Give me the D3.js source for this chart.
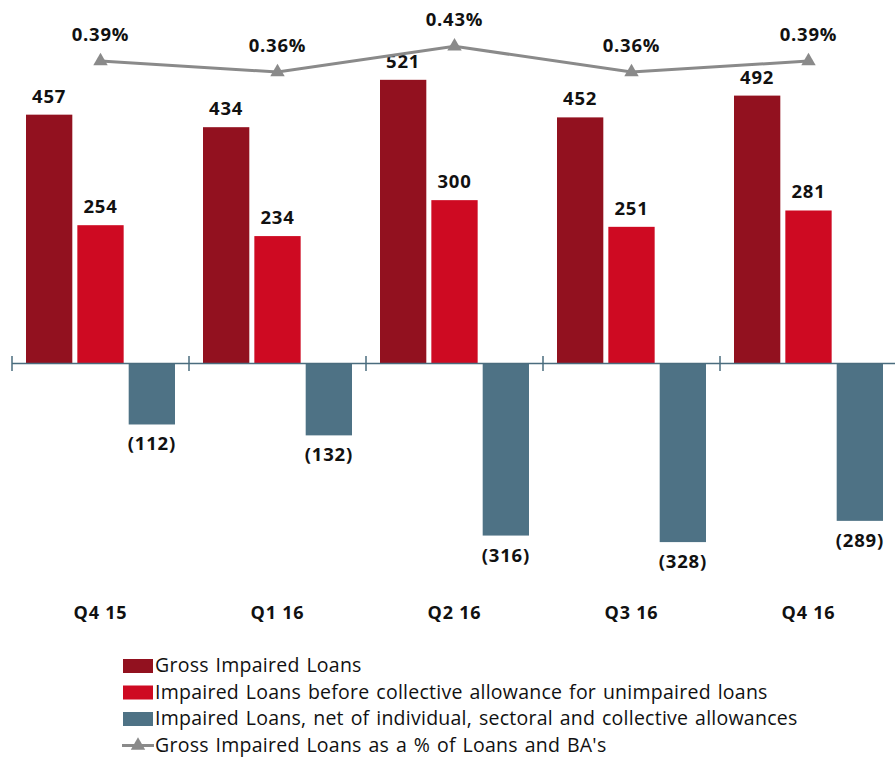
<!DOCTYPE html>
<html>
<head>
<meta charset="utf-8">
<script src="https://cdn.jsdelivr.net/npm/d3@7"></script>
<style>
  html, body { margin: 0; padding: 0; background: #fff; }
  svg { display: block; }
  text { font-family: "Open Sans", "Liberation Sans", sans-serif; }
</style>
</head>
<body>
<svg id="chart" width="895" height="758"></svg>
<script>
// Quarterly impaired loan figures ($ millions) and ratio (%)
const quarters = ["Q4 15", "Q1 16", "Q2 16", "Q3 16", "Q4 16"];
const grossImpaired = [457, 434, 521, 452, 492];
const beforeCollective = [254, 234, 300, 251, 281];
const netOfAllowances = [-112, -132, -316, -328, -289];
const grossPctOfLoans = [0.39, 0.36, 0.43, 0.36, 0.39];

const seriesNames = [
  "Gross Impaired Loans",
  "Impaired Loans before collective allowance for unimpaired loans",
  "Impaired Loans, net of individual, sectoral and collective allowances",
  "Gross Impaired Loans as a % of Loans and BA's"
];
const barColors = ["#92111F", "#CE0A22", "#4E7285"];
const lineColor = "#8A8A8A";

const svg = d3.select("#chart");

// Category bands: one per quarter, 177px wide
const x = d3.scaleBand().domain(quarters).range([12, 897]).padding(0);
const xSeries = d3.scaleBand().domain([0, 1, 2]).range([14, 163]).paddingInner(5 / 51);

const yBar = d3.scaleLinear().domain([-400, 600]).range([581.3, 36.8]);
const yPct = d3.scaleLinear().domain([0.30, 0.45]).range([94, 39]);

const barSeries = [grossImpaired, beforeCollective, netOfAllowances];

// Bars
barSeries.forEach((vals, si) => {
  svg.append("g").selectAll("rect")
    .data(vals.map((v, i) => ({ q: quarters[i], v })))
    .join("rect")
    .attr("x", d => x(d.q) + xSeries(si))
    .attr("width", xSeries.bandwidth())
    .attr("y", d => yBar(Math.max(0, d.v)))
    .attr("height", d => Math.abs(yBar(d.v) - yBar(0)))
    .attr("fill", barColors[si]);
});

// Zero axis with tick marks at category boundaries
const axisG = svg.append("g").attr("transform", `translate(0,${yBar(0)})`);
axisG.append("line")
  .attr("x1", 12).attr("x2", 895).attr("y1", 0).attr("y2", 0)
  .attr("stroke", "#4A6C7E").attr("stroke-width", 1.5);
axisG.selectAll("line.tick")
  .data(quarters)
  .join("line")
  .attr("class", "tick")
  .attr("x1", d => x(d)).attr("x2", d => x(d))
  .attr("y1", -7.5).attr("y2", 7.5)
  .attr("stroke", "#4A6C7E").attr("stroke-width", 1.5);

// Bar value labels
const labelStyle = sel => sel
  .attr("text-anchor", "middle")
  .attr("font-weight", "bold")
  .attr("font-size", 18.5)
  .attr("letter-spacing", 0.8)
  .attr("fill", "#111");

barSeries.forEach((vals, si) => {
  svg.append("g").selectAll("text")
    .data(vals.map((v, i) => ({ q: quarters[i], v })))
    .join("text")
    .attr("x", d => x(d.q) + xSeries(si) + xSeries.bandwidth() / 2)
    .attr("y", d => d.v >= 0 ? yBar(d.v) - 12 : yBar(d.v) + 26)
    .text(d => d.v >= 0 ? d3.format("d")(d.v) : `(${d3.format("d")(-d.v)})`)
    .call(labelStyle);
});

// Ratio line with triangle markers
const cx = q => x(q) + x.bandwidth() / 2;
const linePts = grossPctOfLoans.map((v, i) => ({ q: quarters[i], v }));
svg.append("path")
  .datum(linePts)
  .attr("d", d3.line().x(d => cx(d.q)).y(d => yPct(d.v)))
  .attr("fill", "none")
  .attr("stroke", lineColor)
  .attr("stroke-width", 3);
svg.append("g").selectAll("path")
  .data(linePts)
  .join("path")
  .attr("transform", d => `translate(${cx(d.q)},${yPct(d.v)})`)
  .attr("d", d3.symbol().type(d3.symbolTriangle).size(90))
  .attr("fill", lineColor);
svg.append("g").selectAll("text")
  .data(linePts)
  .join("text")
  .attr("x", d => cx(d.q))
  .attr("y", d => yPct(d.v) - 20)
  .text(d => d3.format(".2f")(d.v) + "%")
  .call(labelStyle);

// Category labels
svg.append("g").selectAll("text")
  .data(quarters)
  .join("text")
  .attr("x", d => cx(d))
  .attr("y", 619)
  .text(d => d)
  .attr("text-anchor", "middle")
  .attr("font-weight", "bold")
  .attr("font-size", 18)
  .attr("letter-spacing", 0.8)
  .attr("fill", "#111");

// Legend
const legend = svg.append("g");
const rowY = i => 666 + i * 26.5;
[0, 1, 2].forEach(i => {
  legend.append("rect")
    .attr("x", 123).attr("y", rowY(i) - 7)
    .attr("width", 30).attr("height", 14)
    .attr("fill", barColors[i]);
});
legend.append("line")
  .attr("x1", 122).attr("x2", 154)
  .attr("y1", rowY(3)).attr("y2", rowY(3))
  .attr("stroke", lineColor).attr("stroke-width", 3);
legend.append("path")
  .attr("transform", `translate(138,${rowY(3)})`)
  .attr("d", d3.symbol().type(d3.symbolTriangle).size(90))
  .attr("fill", lineColor);
legend.selectAll("text")
  .data(seriesNames)
  .join("text")
  .attr("x", 155)
  .attr("y", (d, i) => rowY(i) + 6)
  .attr("font-size", 19.5)
  .attr("letter-spacing", 0.25)
  .attr("word-spacing", 1.5)
  .attr("fill", "#111")
  .text(d => d);
</script>
</body>
</html>
